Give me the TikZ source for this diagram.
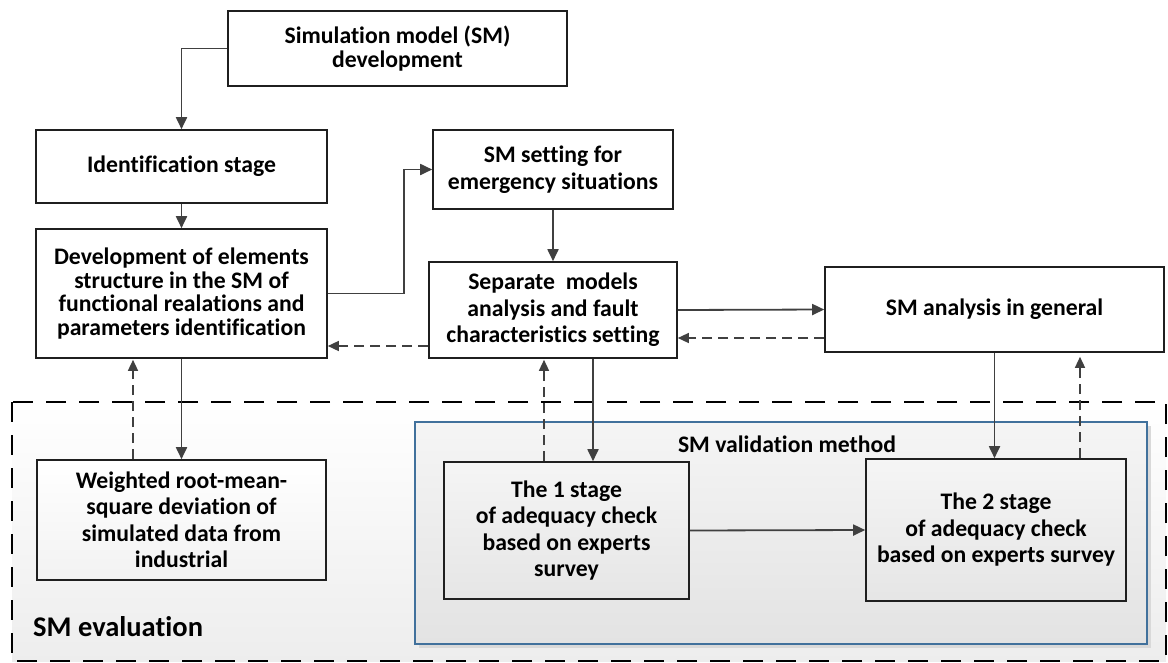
\documentclass[tikz,border=0pt]{standalone}
\usepackage{fontspec}
\setmainfont{Carlito}[Ligatures=NoCommon]
\usetikzlibrary{arrows.meta}
\definecolor{conn}{HTML}{404040}
\definecolor{bluebd}{HTML}{41719C}
\tikzset{
  box/.style={draw=black!88, line width=1.6pt, align=center, inner sep=0pt,
    font=\bfseries\fontsize{23.7}{26.5}\selectfont, fill=white},
  graybox/.style={box, top color=gray!8, bottom color=gray!20},
  arr/.style={draw=conn, line width=1.8pt, -{Triangle[length=12pt,width=11pt]}},
  darr/.style={draw=conn, line width=1.4pt, dash pattern=on 10pt off 6pt,
    -{Triangle[length=11pt,width=10pt]}},
  lbl/.style={font=\bfseries\fontsize{23.7}{26.5}\selectfont, inner sep=0pt}
}
\begin{document}
\begin{tikzpicture}[x=1pt,y=-1pt]
\useasboundingbox (0,0) rectangle (1168,662);
% outer evaluation region
\path[top color=white, bottom color=gray!14] (12,402) rectangle (1166,661);
\draw[black, line width=2.6pt, dash pattern=on 20pt off 13pt] (12,402) rectangle (1166,661);
% validation region
\fill[gray!30] (419,426) rectangle (1151,648);
\draw[bluebd, line width=1.4pt, top color=gray!8, bottom color=gray!22] (415,422) rectangle (1147,644);
\node[lbl] (valt) at (787,444) {SM validation method};
\node[lbl, font=\bfseries\fontsize{28.5}{32}\selectfont, anchor=west] (evalt) at (33,627) {SM evaluation};

% nodes
\node[box, minimum width=339pt, minimum height=75pt] (smdev) at (397.5,48.5)
  {Simulation model (SM)\\[-2.5pt]development};
\node[box, minimum width=291pt, minimum height=73pt] (idstage) at (181.5,166.5)
  {Identification stage};
\node[box, minimum width=291pt, minimum height=129pt, font=\bfseries\fontsize{23.7}{23.5}\selectfont] (devel) at (181.5,293.5)
  {Development of elements\\structure in the SM of\\functional realations and\\parameters identification};
\node[box, minimum width=240pt, minimum height=79pt] (smset) at (553,169.5)
  {SM setting for\\emergency situations};
\node[box, minimum width=248pt, minimum height=96pt] (sep) at (553,310)
  {Separate\ \ models\\analysis and fault\\characteristics setting};
\node[box, minimum width=339pt, minimum height=85pt] (ana) at (994.5,309.5)
  {SM analysis in general};
\node[box, top color=white, bottom color=gray!10, minimum width=289pt, minimum height=120pt] (wrms) at (181.5,520)
  {Weighted root-mean-\\square deviation of\\simulated data from\\industrial};
\node[graybox, minimum width=245pt, minimum height=137pt] (st1) at (566.5,530.5)
  {The 1 stage\\of adequacy check\\based on experts\\survey};
\node[graybox, minimum width=260pt, minimum height=142pt] (st2) at (996,530)
  {The 2 stage\\of adequacy check\\based on experts survey};

% solid connectors
\draw[arr] (smdev.west) -| (idstage.north);
\draw[arr] (idstage.south) -- (devel.north);
\draw[arr] (devel.east) -- ++(76,0) |- (smset.west);
\draw[arr] (smset.south) -- (sep.north);
\draw[arr] (sep.east) -- (ana.west);
\draw[arr] (devel.south) -- (wrms.north);
\draw[arr] (sep.south -| 593,0) -- (st1.north -| 593,0);
\draw[arr] (st1.east) -- (st2.west);
\draw[arr] (ana.south) -- (st2.north -| ana.south);

% dashed feedback connectors
\draw[darr] (ana.west |- 0,338) -- (sep.east |- 0,338);
\draw[darr] (sep.west |- 0,346) -- (devel.east |- 0,346);
\draw[darr] (wrms.north -| 133,0) -- ([yshift=-1pt]devel.south -| 133,0);
\draw[darr] (st1.north -| 544,0) -- ([yshift=-1pt]sep.south -| 544,0);
\draw[darr] (st2.north -| 1080,0) -- ([yshift=-4pt]ana.south -| 1080,0);
\end{tikzpicture}
\end{document}
